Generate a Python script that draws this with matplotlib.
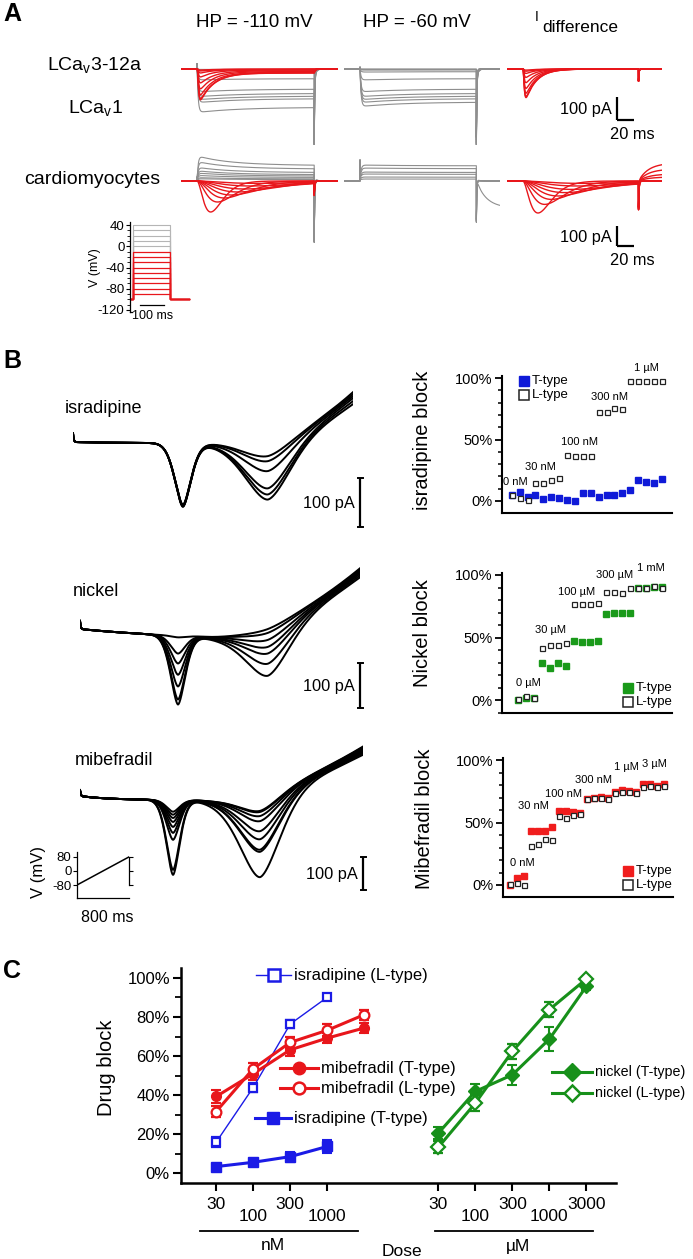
import numpy as np
import matplotlib
matplotlib.use("Agg")
import matplotlib.pyplot as plt
from matplotlib.ticker import MultipleLocator

plt.rcParams["font.family"] = ["Liberation Sans", "DejaVu Sans"]
plt.rcParams["mathtext.fontset"] = "custom"
plt.rcParams["mathtext.rm"] = "Liberation Sans"
plt.rcParams["mathtext.it"] = "Liberation Sans:italic"
plt.rcParams["axes.unicode_minus"] = False

W, H = 693, 1259
RED = "#e8161b"
GRAY = "#8e8e8e"
BLUE = "#1b1be6"
GREEN = "#17901a"
SQ_RED = "#f01d1d"
SQ_BLUE = "#0f1ad8"
SQ_GREEN = "#1a9a1a"

# ---------------- panel A : step protocol (mV) and currents (pA) ----------------
STEP_ON, STEP_OFF, SWEEP_END = 19, 157, 185
STEP_GRAY_MV = [0, 10, 20, 30, 40]
STEP_RED_MV = [-90, -80, -70, -60, -50, -40, -30, -20, -10]
HOLD_MV = -100

LCAV3_PEAK = [5, 9, 18, 36, 63, 90, 117, 135, 140]
LCAV1_HP110 = [2, 5, 50, 104, 126, 140, 153, 198]
LCAV1_HP60 = [0, 2, 5, 14, 50, 104, 126, 140, 153, 171]
DIFF_ROW1_PEAK = [5, 10, 20, 38, 62, 88, 110, 125, 130]
CARDIO_OUT_HP110 = [10, 15, 25, 35, 45, 60, 85, 110]
CARDIO_OUT_HP60 = [10, 20, 35, 45, 65, 80]
CARDIO_IN_PEAK = [155, 105, 85, 70, 55, 40, 25, 12]
CARDIO_IN_TPEAK = [16, 24, 32, 40, 48, 56, 64, 72]
DIFF_ROW2_PEAK = [160, 117, 92, 75, 58, 42, 25, 12]
DIFF_ROW2_TPEAK = [18, 26, 34, 42, 50, 58, 66, 74]
DIFF_ROW2_TAIL = [90, 60, 35, 20]

# ---------------- panel B : ramp currents (pA) ----------------
ISR_DIP1 = [126, 128, 130, 128, 127, 129]
ISR_DIP2 = [34, 44, 64, 99, 111, 121]
ISR_END = [102, 98, 94, 90, 84, 78]
NI_DIP1 = [4, 40, 62, 87, 113, 142, 153]
NI_DIP2 = [10, 18, 33, 48, 62, 84, 110]
NI_END = [135, 132, 129, 126, 123, 119, 115]
MIB_DIP1 = [36, 45, 55, 67, 82, 100, 121, 212, 227]
MIB_DIP2 = [58, 61, 73, 88, 118, 142, 173, 179, 255]
MIB_END = [150, 148, 146, 143, 140, 137, 133, 130, 125]
RAMP_T = [0, 800]
RAMP_MV = [-80, 80]

# block (%) per sweep, T-type and L-type
ISR_T = [4.9, 7.7, 3.6, 4.9, 1.4, 3.6, 2.2, 0.8, 0.3, 6.3, 6.3, 3.0, 4.9, 4.9, 6.3,
         9.0, 16.7, 15.8, 14.5, 17.8]
ISR_L = [4.9, 2.2, 0.8, 15.0, 15.0, 16.7, 18.3, 37.7, 36.9, 36.9, 36.9, 72.6, 72.6,
         75.9, 74.8, 97.5, 97.5, 97.5, 97.5, 97.5]
ISR_CONC = ["0 nM", "30 nM", "100 nM", "300 nM", "1 \u00b5M"]
ISR_CONC_AT = [(0.4, 15.4), (3.6, 27.6), (8.6, 48), (12.4, 84.5), (17, 108)]

NI_T = [0, 2, 2, 30, 25.3, 29.3, 27.4, 47.4, 46.7, 46.1, 47.2, 68.8, 69.9, 69.3, 69.3,
        89.9, 89.9, 90.5, 90.5]
NI_L = [1, 3.2, 1.5, 41.3, 44, 44, 45.8, 76.8, 76.8, 76.8, 77.3, 86.7, 86.7, 85.9, 89.9,
        90, 90, 91.5, 90]
NI_CONC = ["0 \u00b5M", "30 \u00b5M", "100 \u00b5M", "300 \u00b5M", "1 mM"]
NI_CONC_AT = [(1.2, 13.6), (4.0, 56), (7.3, 86.4), (12, 100), (16.6, 105.6)]

MIB_T = [0, 5.9, 7.5, 43.5, 43.5, 43.5, 46.7, 59.5, 59.5, 58.7, 57.3, 68.5, 69.9, 70.7,
         69.3, 74.7, 76, 75.5, 74.7, 80.5, 81, 79.5, 80.5]
MIB_L = [0.5, 1.9, 0.3, 31.5, 32.5, 36.5, 36, 55.5, 53.9, 56, 56.8, 69, 69.5, 70, 69,
         73.5, 74.1, 74.7, 73.9, 78.5, 79.2, 78.8, 79]
MIB_CONC = ["0 nM", "30 nM", "100 nM", "300 nM", "1 \u00b5M", "3 \u00b5M"]
MIB_CONC_AT = [(1.7, 17.6), (3.4, 63), (7.6, 72.8), (11.9, 84), (16.7, 94.4), (20.7, 96.8)]

# ---------------- panel C : dose response (%) ----------------
NM_POS = [0, 1, 2, 3, 4]
UM_POS = [6, 7, 8, 9, 10]
DOSE_TICKS = [0, 1, 2, 3, 6, 7, 8, 9, 10]
DOSE_LABELS = ["30", "\n100", "300", "\n1000", "30", "\n100", "300", "\n1000", "3000"]
C_ISR_L = [15.9, 43.9, 76.4, 90.1]
C_ISR_L_ERR = [2.5, 2.5, 2.0, 1.5]
C_ISR_T = [3.4, 5.6, 8.5, 13.7]
C_ISR_T_ERR = [1.5, 1.2, 2.5, 3.5]
C_MIB_T = [39.3, 50.9, 63.2, 69.2, 74.4]
C_MIB_T_ERR = [3.5, 3.0, 3.0, 2.5, 2.5]
C_MIB_L = [31.6, 53.5, 67.0, 73.2, 81.2]
C_MIB_L_ERR = [3.0, 3.0, 3.0, 3.0, 2.5]
C_NI_T = [20.5, 41.9, 50.4, 68.7, 95.7]
C_NI_T_ERR = [3.0, 4.0, 5.0, 6.0, 2.0]
C_NI_L = [13.3, 35.9, 62.4, 83.8, 99.5]
C_NI_L_ERR = [3.0, 4.0, 4.0, 4.0, 1.0]

fig = plt.figure(figsize=(W / 100, H / 100), dpi=100)
ov = fig.add_axes([0, 0, 1, 1])
ov.set_xlim(0, W)
ov.set_ylim(H, 0)
ov.axis("off")
ov.set_zorder(10)


def px_axes(x0, y0, x1, y1):
    return fig.add_axes([x0 / W, 1 - y1 / H, (x1 - x0) / W, (y1 - y0) / H])


def trace_axes(x0, x1, y0, y1, t_end, y_base, px_per_pa):
    ax = px_axes(x0, y0, x1, y1)
    ax.set_xlim(0, t_end)
    ax.set_ylim(-(y1 - y_base) / px_per_pa, (y_base - y0) / px_per_pa)
    ax.axis("off")
    return ax


def scale_bar(x, ytop, ybot, label, horiz=None, ms_label=None, caps=False):
    ov.plot([x, x], [ytop, ybot], color="black", lw=1.6, solid_capstyle="butt")
    if caps:
        for yy in (ytop, ybot):
            ov.plot([x - 2.5, x + 2.5], [yy, yy], color="black", lw=1.4)
    if horiz:
        ov.plot([x, x + horiz], [ybot, ybot], color="black", lw=1.6, solid_capstyle="butt")
    ov.text(x - 5, (ytop + ybot) / 2 + 1, label, ha="right", va="center", fontsize=11.8)
    if ms_label:
        ov.text(x + 15, ybot + 14, ms_label, ha="center", va="center", fontsize=11.8)


# ---------- panel A waveforms ----------
t = np.linspace(0, SWEEP_END, 3701)
on = (t >= STEP_ON) & (t < STEP_OFF)
after = t >= STEP_OFF
ts = np.where(on, t - STEP_ON, 0.0)
ta = np.where(after, t - STEP_OFF, 0.0)


def sustained(amp, cap=25.0, spike=300.0, sign=-1.0, inact=0.12, overshoot=0.0):
    y = np.zeros_like(t)
    body = (1 - np.exp(-ts / 1.2)) * (1 - inact * (1 - np.exp(-ts / 50)))
    body = body * (1 + overshoot * np.exp(-ts / 30))
    y[on] = (sign * amp * body + cap * np.exp(-ts / 0.3))[on]
    y[after] = (-spike * np.exp(-ta / 0.5) + sign * 0.25 * amp * np.exp(-ta / 2))[after]
    return y


def transient(amp, tau_dec=18.0, plateau=0.12, spike=0.0):
    shape = (1 - np.exp(-ts / 1.0)) ** 3 * ((1 - plateau) * np.exp(-ts / tau_dec) + plateau)
    shape = shape / shape[on].max()
    y = np.zeros_like(t)
    y[on] = -amp * shape[on]
    last = -amp * shape[on][-1]
    y[after] = (last * np.exp(-ta / 1.5) - spike * np.exp(-ta / 0.5))[after]
    return y


def alpha_in(amp, tp, spike=0.0, tail=0.0):
    shape = ((ts / tp) * np.exp(1 - ts / tp)) ** 2
    y = np.zeros_like(t)
    y[on] = -amp * shape[on]
    last = -amp * shape[on][-1]
    y[after] = (last * np.exp(-ta / 1.5) - spike * np.exp(-ta / 0.5)
                + tail * (1 - np.exp(-ta / 12)))[after]
    return y


# row 1
a11 = trace_axes(181, 338, 55, 145, SWEEP_END, 69, 0.22)
for amp in LCAV1_HP110:
    a11.plot(t, sustained(amp, spike=309), color=GRAY, lw=0.8)
for amp in LCAV3_PEAK:
    a11.plot(t, transient(amp, tau_dec=16, plateau=0.1), color=RED, lw=1.0)

a12 = trace_axes(344, 500, 55, 145, SWEEP_END, 69, 0.22)
for amp in LCAV1_HP60:
    a12.plot(t, sustained(amp, cap=8, spike=309), color=GRAY, lw=0.8)

a13 = trace_axes(507, 662, 55, 145, SWEEP_END, 69, 0.22)
for amp in DIFF_ROW1_PEAK:
    a13.plot(t, transient(amp, tau_dec=13, plateau=0.0, spike=55), color=RED, lw=1.0)

# row 2
a21 = trace_axes(181, 338, 150, 250, SWEEP_END, 181, 0.2)
for amp in CARDIO_OUT_HP110:
    a21.plot(t, sustained(amp, cap=20, spike=310, sign=1.0, inact=0.3, overshoot=0.15),
             color=GRAY, lw=0.8)
for amp, tp in zip(CARDIO_IN_PEAK, CARDIO_IN_TPEAK):
    a21.plot(t, alpha_in(amp, tp, spike=60), color=RED, lw=1.0)

a22 = trace_axes(344, 500, 150, 250, SWEEP_END, 181, 0.2)
for i, amp in enumerate(CARDIO_OUT_HP60):
    y = sustained(amp, cap=105, spike=210, sign=1.0, inact=0.05)
    if i == len(CARDIO_OUT_HP60) - 1:
        y[after] = y[after] - 135 * (1 - np.exp(-ta[after] / 12))
    a22.plot(t, y, color=GRAY, lw=0.8)

a23 = trace_axes(507, 662, 150, 250, SWEEP_END, 181, 0.2)
for i, (amp, tp) in enumerate(zip(DIFF_ROW2_PEAK, DIFF_ROW2_TPEAK)):
    tail = DIFF_ROW2_TAIL[i] if i < len(DIFF_ROW2_TAIL) else 0.0
    a23.plot(t, alpha_in(amp, tp, spike=130, tail=tail), color=RED, lw=1.0)

# step protocol inset
ai = px_axes(130, 222, 192, 312)
ai.set_xlim(0, 251)
ai.set_ylim(-124, 46)
t_step = [0, 12, 12, 162, 162, 239]
for v in STEP_GRAY_MV:
    ai.plot(t_step, [HOLD_MV, HOLD_MV, v, v, HOLD_MV, HOLD_MV], color="#b5b5b5", lw=0.8)
for v in STEP_RED_MV:
    ai.plot(t_step, [HOLD_MV, HOLD_MV, v, v, HOLD_MV, HOLD_MV], color=RED, lw=0.9)
for s in ("top", "right"):
    ai.spines[s].set_visible(False)
ai.spines["bottom"].set_bounds(0, 10)
ai.spines["left"].set_linewidth(0.9)
ai.spines["bottom"].set_linewidth(0.9)
ai.set_xticks([])
ai.set_yticks([-120, -80, -40, 0, 40])
ai.yaxis.set_minor_locator(MultipleLocator(10))
ai.tick_params(axis="y", which="major", labelsize=9.5, length=3, width=0.8, pad=1)
ai.tick_params(axis="y", which="minor", length=2, width=0.6)
ai.patch.set_alpha(0)
ov.text(95, 268, "V (mV)", rotation=90, ha="center", va="center", fontsize=9)
ov.plot([140, 164], [305, 305], color="black", lw=0.9)
ov.text(153, 316, "100 ms", ha="center", va="center", fontsize=9)

ov.text(3, 14, "A", fontsize=18, fontweight="bold", ha="left", va="center")
ov.text(254, 22, "HP = -110 mV", fontsize=13.5, ha="center", va="center")
ov.text(417, 22, "HP = -60 mV", fontsize=13.5, ha="center", va="center")
ov.text(535, 17, "I", fontsize=10, ha="left", va="center")
ov.text(542, 27, "difference", fontsize=12.5, ha="left", va="center")
ov.text(47, 65, r"LCa$_\mathrm{v}$3-12a", fontsize=14, ha="left", va="center")
ov.text(68, 108, r"LCa$_\mathrm{v}$1", fontsize=14, ha="left", va="center")
ov.text(24, 179, "cardiomyocytes", fontsize=14, ha="left", va="center")
scale_bar(617, 97, 120, "100 pA", horiz=17, ms_label="20 ms")
scale_bar(617, 226, 246, "100 pA", horiz=17, ms_label="20 ms")

# ---------- panel B ramps ----------
tr = np.linspace(0, 800, 1601)


def ramp_current(d1, d2, end, c1, s1, c2, s2, sag, sag_tau, t0, power):
    sag_curve = -sag * (1 - np.exp(-tr / sag_tau))
    leak_amp = end - sag_curve[-1]
    leak = leak_amp * np.clip((tr - t0) / (tr[-1] - t0), 0, None) ** power
    g1 = np.exp(-0.5 * (np.abs(tr - c1) / s1) ** 1.7)
    g2 = np.exp(-0.5 * (np.abs(tr - c2) / s2) ** 1.7)
    return sag_curve + leak - d1 * g1 - d2 * g2 + 18 * np.exp(-tr / 2.0)


b1 = trace_axes(73, 353, 380, 515, 800, 442, 0.49)
for d1, d2, e in zip(ISR_DIP1, ISR_DIP2, ISR_END):
    b1.plot(tr, ramp_current(d1, d2, e, 314, 22, 557, 62, 2, 100, 470, 2.0), color="black", lw=1.4)

b2 = trace_axes(80, 360, 560, 712, 800, 629, 0.45)
for d1, d2, e in zip(NI_DIP1, NI_DIP2, NI_END):
    b2.plot(tr, ramp_current(d1, d2, e, 280, 20, 537, 60, 24, 300, 363, 1.8), color="black", lw=1.4)

b3 = trace_axes(80, 363, 740, 885, 800, 796, 0.33)
for d1, d2, e in zip(MIB_DIP1, MIB_DIP2, MIB_END):
    b3.plot(tr, ramp_current(d1, d2, e, 263, 18, 509, 55, 12, 80, 350, 1.8), color="black", lw=1.4)

ov.text(3, 361, "B", fontsize=18, fontweight="bold", ha="left", va="center")
ov.text(65, 408, "isradipine", fontsize=13, ha="left", va="center")
ov.text(73, 591, "nickel", fontsize=13, ha="left", va="center")
ov.text(75, 760, "mibefradil", fontsize=13, ha="left", va="center")
scale_bar(360, 478, 527, "100 pA", caps=True)
scale_bar(360, 663, 708, "100 pA", caps=True)
scale_bar(363, 857, 890, "100 pA", caps=True)

# ramp protocol inset
ar = px_axes(77, 852, 129, 898)
ar.plot(RAMP_T, RAMP_MV, color="black", lw=1.1)
ar.set_xlim(0, 800)
ar.set_ylim(-154, 108)
ar.spines["top"].set_visible(False)
ar.spines["right"].set_bounds(-80, 80)
ar.set_xticks([])
ar.set_yticks([-80, 0, 80])
ar.tick_params(axis="y", labelsize=9.5, length=3, width=0.8, pad=1, right=True, direction="out")
for s in ar.spines.values():
    s.set_linewidth(0.9)
ar.patch.set_alpha(0)
ov.text(38, 872, "V (mV)", rotation=90, ha="center", va="center", fontsize=12)
ov.text(107, 917, "800 ms", ha="center", va="center", fontsize=11.5)


# ---------- panel B block scatter ----------
def block_axes(y100, y0, ybot, x_left, x_right, i0_px, step_px):
    px_pct = (y0 - y100) / 100.0
    ytop = y100 - 2
    ax = px_axes(x_left, ytop, x_right, ybot)
    ax.set_ylim(-(ybot - y0) / px_pct, (y0 - ytop) / px_pct)
    ax.set_xlim((x_left - i0_px) / step_px, (x_right - i0_px) / step_px)
    for s in ("top", "right"):
        ax.spines[s].set_visible(False)
    for s in ("left", "bottom"):
        ax.spines[s].set_linewidth(1.5)
    ax.set_xticks([])
    ax.set_yticks([0, 50, 100], ["0%", "50%", "100%"])
    ax.yaxis.set_minor_locator(MultipleLocator(10))
    ax.tick_params(axis="y", which="major", labelsize=10.5, length=5, width=1.3, pad=2)
    ax.tick_params(axis="y", which="minor", length=3, width=1.1)
    ax.patch.set_alpha(0)
    return ax


def block_scatter(ax, t_vals, l_vals, color, conc, conc_at):
    ax.plot(range(len(t_vals)), t_vals, ls="none", marker="s", ms=3.8, color=color,
            mec=color, zorder=3)
    ax.plot(range(len(l_vals)), l_vals, ls="none", marker="s", ms=3.6, mfc="white",
            mec="#222222", mew=0.9, zorder=4)
    for lab, (xi, yv) in zip(conc, conc_at):
        ax.text(xi, yv, lab, fontsize=8, ha="center", va="center", clip_on=False)


def small_legend(x, y, color):
    ov.plot([x], [y], marker="s", ms=7, color=color, ls="none")
    ov.plot([x], [y + 14], marker="s", ms=6.5, mfc="white", mec="#222222", mew=1.1, ls="none")
    ov.text(x + 8, y, "T-type", fontsize=9.5, ha="left", va="center")
    ov.text(x + 8, y + 14, "L-type", fontsize=9.5, ha="left", va="center")


s1 = block_axes(378, 501, 513, 502, 672, 511.7, 7.9)
block_scatter(s1, ISR_T, ISR_L, SQ_BLUE, ISR_CONC, ISR_CONC_AT)
small_legend(524, 381, SQ_BLUE)
ov.text(422, 440, "isradipine block", rotation=90, fontsize=14.5, ha="center", va="center")

s2 = block_axes(575, 700, 713, 502, 672, 518.3, 8.0)
block_scatter(s2, NI_T, NI_L, SQ_GREEN, NI_CONC, NI_CONC_AT)
small_legend(628, 688, SQ_GREEN)
ov.text(422, 633, "Nickel block", rotation=90, fontsize=14.5, ha="center", va="center")

s3 = block_axes(760, 885, 897, 503, 673, 510.0, 7.0)
block_scatter(s3, MIB_T, MIB_L, SQ_RED, MIB_CONC, MIB_CONC_AT)
small_legend(628, 871, SQ_RED)
ov.text(424, 819, "Mibefradil block", rotation=90, fontsize=14.5, ha="center", va="center")

# ---------- panel C ----------
ac = px_axes(181, 968, 616, 1183)
ac.set_xlim(-0.95, 10.8)
ac.set_ylim(-5, 105.1)
for s in ("top", "right"):
    ac.spines[s].set_visible(False)
for s in ("left", "bottom"):
    ac.spines[s].set_linewidth(1.8)
ac.set_yticks(range(0, 101, 20), [f"{v}%" for v in range(0, 101, 20)])
ac.yaxis.set_minor_locator(MultipleLocator(10))
ac.set_xticks(DOSE_TICKS, DOSE_LABELS)
for lab in ac.get_xticklabels():
    lab.set_linespacing(0.8)
ac.tick_params(axis="y", which="major", labelsize=12, length=6, width=1.5, pad=2)
ac.tick_params(axis="y", which="minor", length=4, width=1.3)
ac.tick_params(axis="x", labelsize=12.5, length=6, width=1.5, pad=4)
ac.patch.set_alpha(0)

eb = dict(capsize=3.5, capthick=1.5, elinewidth=1.5)
ac.errorbar(NM_POS[:4], C_ISR_L, yerr=C_ISR_L_ERR, color=BLUE, lw=1.0, marker="s", ms=6,
            mfc="white", mec=BLUE, mew=1.6, **eb)
ac.errorbar(NM_POS[:4], C_ISR_T, yerr=C_ISR_T_ERR, color=BLUE, lw=2.2, marker="s", ms=6.5, **eb)
ac.errorbar(NM_POS, C_MIB_T, yerr=C_MIB_T_ERR, color=RED, lw=2.2, marker="o", ms=7, **eb)
ac.errorbar(NM_POS, C_MIB_L, yerr=C_MIB_L_ERR, color=RED, lw=2.2, marker="o", ms=7,
            mfc="white", mec=RED, mew=1.6, **eb)
ac.errorbar(UM_POS, C_NI_T, yerr=C_NI_T_ERR, color=GREEN, lw=2.2, marker="D", ms=7, **eb)
ac.errorbar(UM_POS, C_NI_L, yerr=C_NI_L_ERR, color=GREEN, lw=2.2, marker="D", ms=7,
            mfc="white", mec=GREEN, mew=1.6, **eb)


def c_legend(x0, x1, y, color, marker, filled, label, lw=2.2, size=12):
    ov.plot([x0, x1], [y, y], color=color, lw=lw)
    xm = (x0 + x1) / 2
    if filled:
        ov.plot([xm], [y], marker=marker, ms=9, color=color, ls="none")
    else:
        ov.plot([xm], [y], marker=marker, ms=8.5, mfc="white", mec=color, mew=1.8, ls="none")
    ov.text(x1 + 3, y, label, fontsize=size, ha="left", va="center")


c_legend(256, 291, 975, BLUE, "s", False, "isradipine (L-type)", lw=1.0)
c_legend(280, 318, 1068, RED, "o", True, "mibefradil (T-type)")
c_legend(280, 318, 1088, RED, "o", False, "mibefradil (L-type)")
c_legend(255, 291, 1118, BLUE, "s", True, "isradipine (T-type)")
c_legend(552, 592, 1072, GREEN, "D", True, "nickel (T-type)", size=10.3)
c_legend(552, 592, 1093, GREEN, "D", False, "nickel (L-type)", size=10.3)

ov.plot([200, 358], [1231, 1231], color="black", lw=1.3)
ov.plot([435, 593], [1231, 1231], color="black", lw=1.3)
ov.text(273, 1246, "nM", fontsize=12.5, ha="center", va="center")
ov.text(518, 1246, "\u00b5M", fontsize=12.5, ha="center", va="center")
ov.text(402, 1251, "Dose", fontsize=12.5, ha="center", va="center")
ov.text(107, 1068, "Drug block", rotation=90, fontsize=14.5, ha="center", va="center")
ov.text(3, 971, "C", fontsize=18, fontweight="bold", ha="left", va="center")

fig.savefig("out.png", dpi=100)
